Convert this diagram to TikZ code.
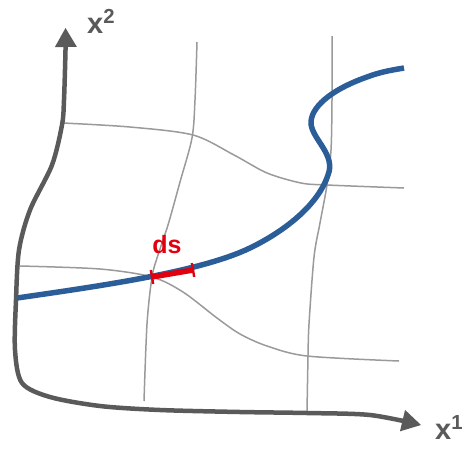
\documentclass[tikz,border=0pt]{standalone}
\usepackage{fontspec}
\setmainfont{Liberation Sans}
\usetikzlibrary{arrows.meta,calc}
\definecolor{axisgray}{HTML}{5A5A5A}
\definecolor{gridgray}{HTML}{9A9A9A}
\definecolor{curveblue}{HTML}{2B5E98}
\definecolor{dsred}{HTML}{E2000F}
\tikzset{
  axisline/.style={draw=axisgray, line width=4.5pt, line cap=round,
    {Triangle[length=19pt,width=22pt,line width=0pt]}-{Triangle[length=19pt,width=22pt,line width=0pt]}},
  gridline/.style={draw=gridgray, line width=1.5pt},
  bluecurve/.style={draw=curveblue, line width=5.5pt},
  dsline/.style={draw=dsred, line width=5.5pt},
  dstick/.style={draw=dsred, line width=2.4pt},
  axislabel/.style={text=axisgray, font=\bfseries\fontsize{29}{32}\selectfont, inner sep=0pt},
  dslabel/.style={text=dsred, font=\bfseries\fontsize{25}{28}\selectfont, inner sep=0pt}
}
\begin{document}
\begin{tikzpicture}[x=1pt,y=-1pt]
\useasboundingbox (0,0) rectangle (474,448);
% grid lines
\draw[gridline] plot[smooth] coordinates {(197,42) (195,100) (192,138) (180,182) (168,225) (158,255) (152,277) (147,324) (144,401)};
\draw[gridline] plot[smooth] coordinates {(332,36) (332,100) (331,150) (327,185) (320,223) (314,257) (309,324) (308,357) (307,412)};
\draw[gridline] plot[smooth] coordinates {(63,123) (130,127) (193,135) (234,155) (267,173) (301,183) (327,185) (404,188)};
\draw[gridline] plot[smooth] coordinates {(20,266) (100,269) (152,277) (183,292) (217,318) (240,334) (267,346) (307,356) (399,361)};
% axes
\draw[axisline] plot[smooth, tension=0.5] coordinates {(65.5,28) (65.5,50) (64,100) (62,125) (52,165) (30,210) (19,250) (16,300) (15,350) (22,383) (50,397) (100,406) (160,410) (240,412) (307,413) (370,415) (421,425)};
% blue curve
\draw[bluecurve] (17,298) .. controls (100,286) and (200,272) .. (250,248)
  .. controls (285,231) and (318,205) .. (328,175)
  .. controls (336,155) and (313,140) .. (311,124)
  .. controls (310,108) and (330,90) .. (367,77)
  .. controls (380,72) and (392,70) .. (404,68);
% ds segment
\coordinate (dsA) at (152,277);
\coordinate (dsB) at (193,270);
\draw[dsline] (dsA) -- (dsB);
\draw[dstick] ($(dsA)!7pt!90:(dsB)$) -- ($(dsA)!7pt!-90:(dsB)$);
\draw[dstick] ($(dsB)!7pt!90:(dsA)$) -- ($(dsB)!7pt!-90:(dsA)$);
% labels
\node[dslabel] (ds) at (167,245) {ds};
\node[axislabel, anchor=base west] (x2) at (87,33) {x\textsuperscript{2}};
\node[axislabel, anchor=base west] (x1) at (435,439) {x\textsuperscript{1}};
\end{tikzpicture}
\end{document}
